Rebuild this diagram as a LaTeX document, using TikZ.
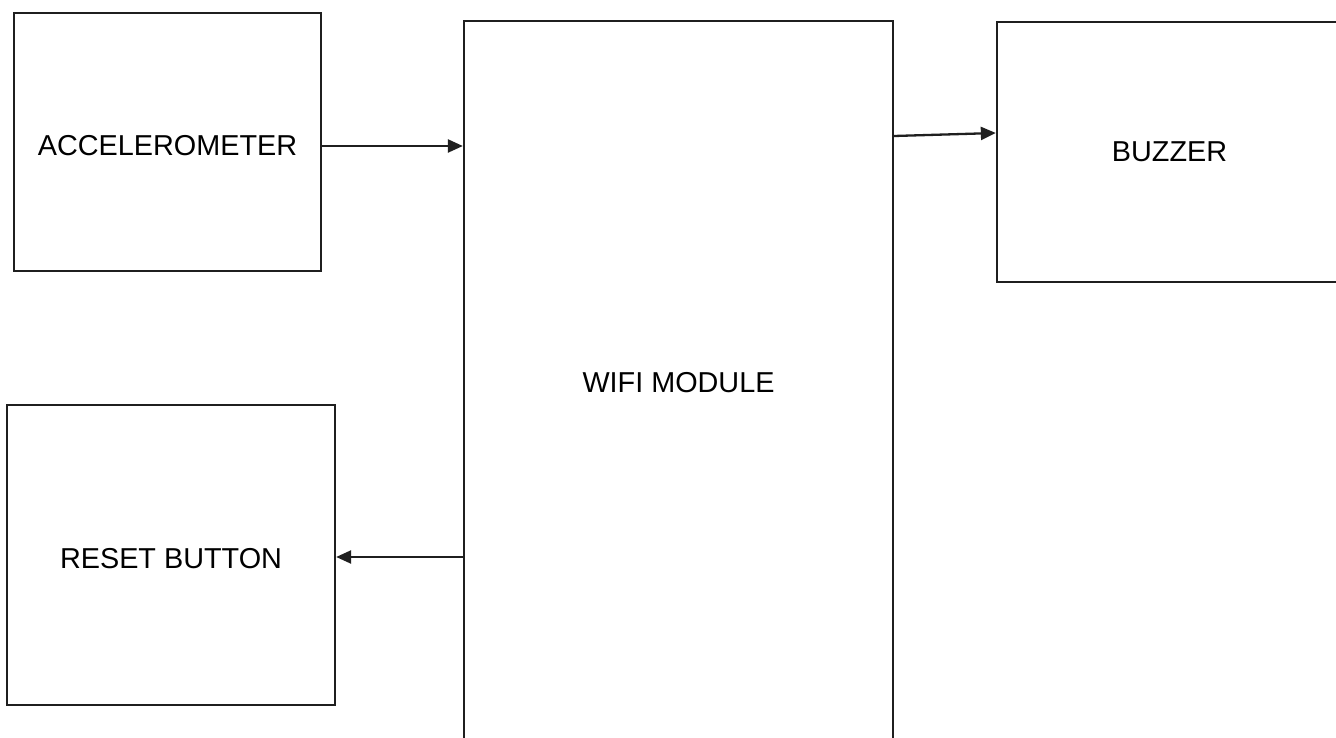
\documentclass[tikz,border=0pt]{standalone}
\usepackage{fontspec}
\setmainfont{Liberation Sans}
\usetikzlibrary{arrows.meta}
\begin{document}
\begin{tikzpicture}[x=1pt,y=-1pt,
  box/.style={draw=black!88, line width=2.3pt, inner sep=0pt, font=\fontsize{28.8}{34}\selectfont},
  conn/.style={draw=black!88, line width=2.3pt, -{Triangle[length=15pt,width=13pt]}}]
\clip (0,0) rectangle (1336,738);
\fill[white] (0,0) rectangle (1336,738);
\node[box, minimum width=307pt, minimum height=258pt, text height=28pt, text depth=0pt] (acc) at (167.5,142) {ACCELEROMETER};
\node[box, minimum width=429pt, minimum height=724pt] (wifi) at (678.5,383) {WIFI MODULE};
\node[box, minimum width=345pt, minimum height=260pt] (buz) at (1169.5,152) {BUZZER};
\node[box, minimum width=328pt, minimum height=300pt, text height=26pt, text depth=0pt] (rst) at (171,555) {RESET BUTTON};
\draw[conn] ([yshift=-4pt]acc.east) -- ([yshift=-4pt]acc.east -| wifi.west);
\draw[conn] (wifi.east |- 0,136) -- (buz.west |- 0,133);
\draw[conn] ([yshift=-2pt]wifi.west |- rst.east) -- ([yshift=-2pt]rst.east);
\end{tikzpicture}
\end{document}
